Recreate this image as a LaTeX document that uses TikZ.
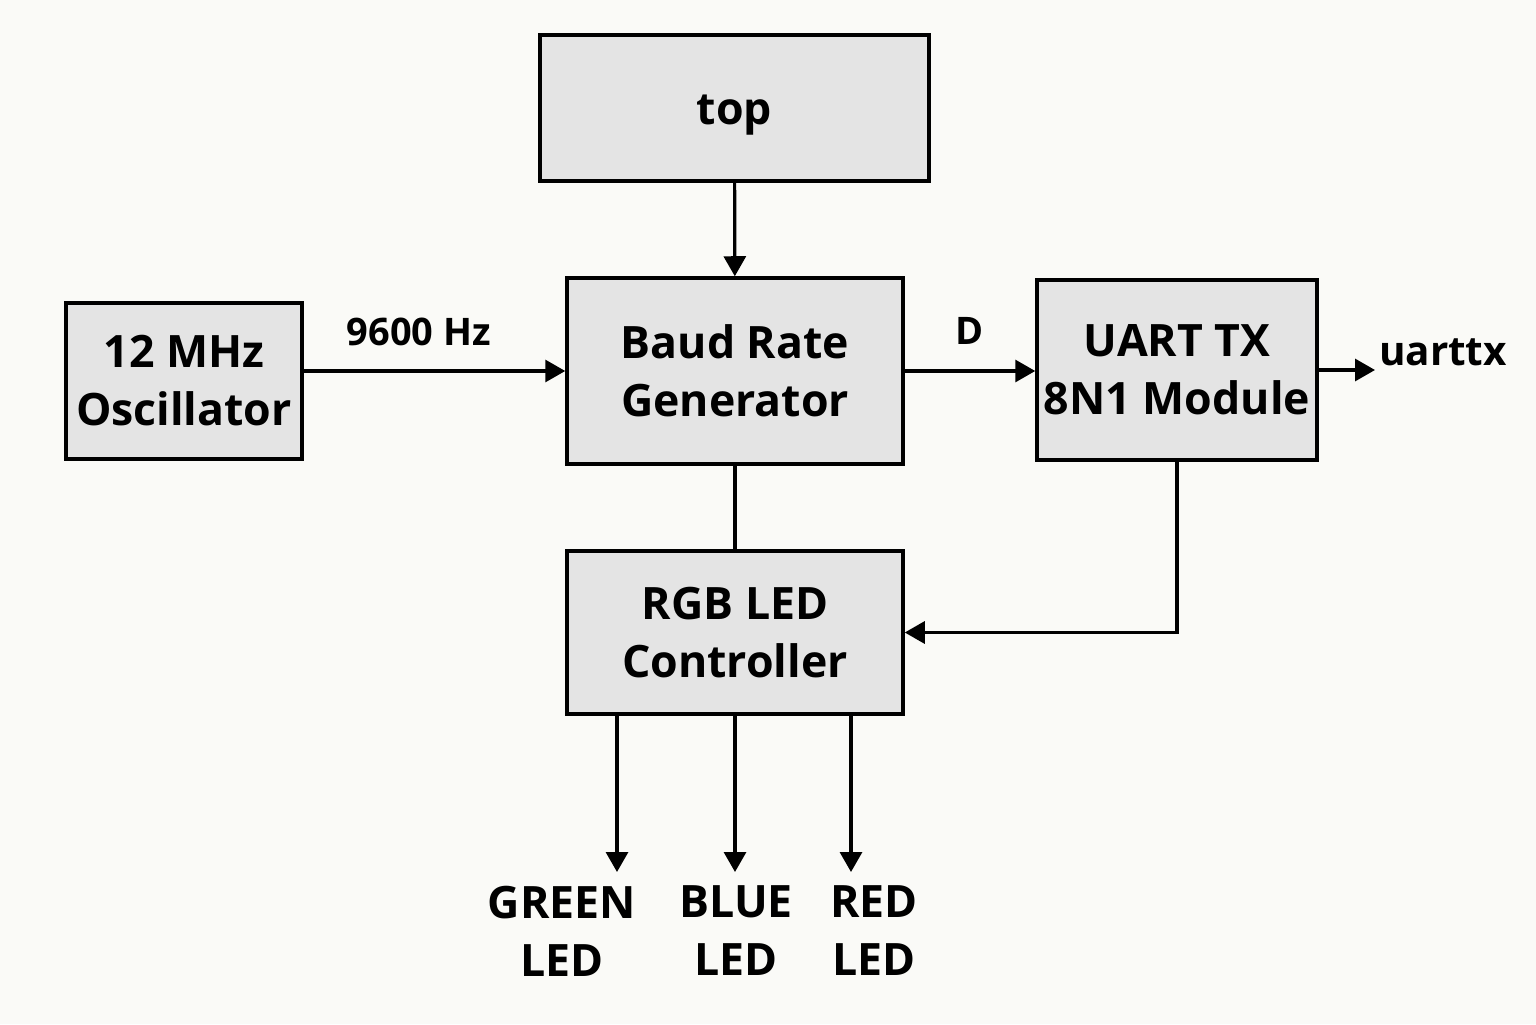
\documentclass[tikz,border=0pt]{standalone}
\usepackage{fontspec}
\setmainfont{Open Sans}
\usetikzlibrary{arrows.meta, positioning, calc}
\definecolor{paper}{HTML}{FAFAF7}
\definecolor{boxgray}{HTML}{E4E4E4}

\begin{document}
\begin{tikzpicture}[font=\fontsize{12.7}{16.5}\selectfont\bfseries,
    blk/.style={rectangle, draw=black, line width=1pt, fill=boxgray,
                align=center, inner sep=0pt},
    sig/.style={-{Triangle[length=2mm, width=2.2mm]}, line width=0.9pt},
    tag/.style={font=\fontsize{10.8}{13}\selectfont\bfseries, inner sep=0pt},
    leaf/.style={align=center, inner sep=0pt}]
  \fill[paper] (0,0) rectangle (15.36,10.24);
  % blocks
  \node[blk, minimum width=3.89cm, minimum height=1.46cm, text height=0.34cm, text depth=0pt] (top) at (7.345,9.16) {top};
  \node[blk, minimum width=3.36cm, minimum height=1.86cm] (baud) at (7.35,6.53) {Baud Rate\\Generator};
  \node[blk, minimum width=2.36cm, minimum height=1.56cm] (osc) at (1.84,6.43) {12 MHz\\Oscillator};
  \node[blk, minimum width=2.80cm, minimum height=1.80cm] (uart) at (11.77,6.54) {UART TX\\8N1 Module};
  \node[blk, minimum width=3.36cm, minimum height=1.63cm] (rgb) at (7.35,3.915) {RGB LED\\Controller};
  % links
  \draw[sig] (top) -- (baud);
  \draw[sig] (osc.east |- baud.west) -- (baud.west);
  \node[tag] (hz) at (4.19,6.92) {9600 Hz};
  \draw[sig] (baud.east) -- node[tag, above=0.25cm] (dlab) {D} (baud.east -| uart.west);
  \coordinate (txend) at (13.75,6.54);
  \draw[sig] (uart.east |- txend) -- (txend);
  \node[font=\fontsize{11.5}{14}\selectfont\bfseries, inner sep=0pt] (uarttx) at (14.43,6.72) {uarttx};
  \draw[line width=0.9pt] (baud) -- (rgb);
  \draw[sig] (uart.south) |- (rgb.east);
  % LED outputs
  \foreach \ax/\lx/\col [count=\i] in {6.17/5.62/GREEN, 7.35/7.36/BLUE, 8.51/8.74/RED}{%
    \coordinate (tip\i) at (\ax,1.52);
    \draw[sig] (rgb.south -| tip\i) -- (tip\i);
    \node[leaf] (led\i) at (\lx,0.93) {\col\\LED};}
\end{tikzpicture}
\end{document}
